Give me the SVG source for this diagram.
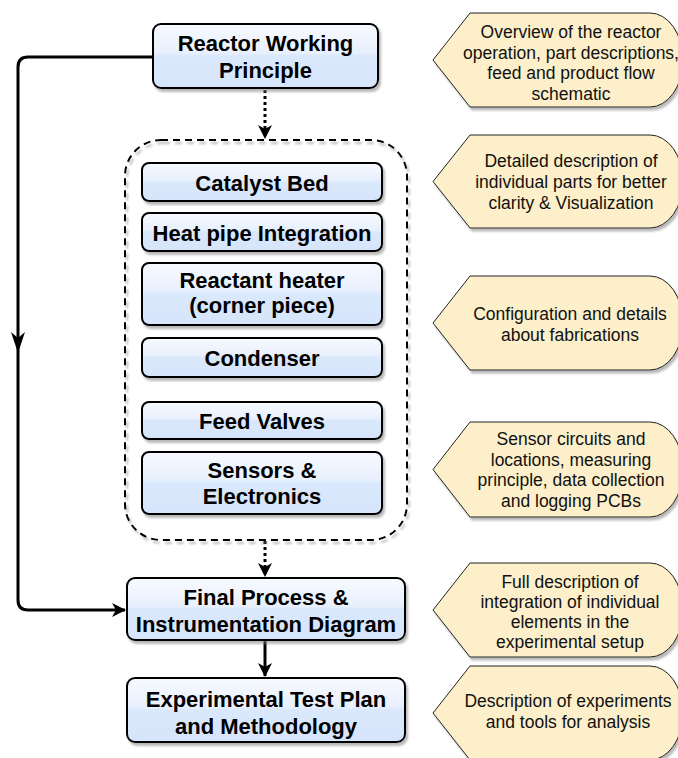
<svg xmlns="http://www.w3.org/2000/svg" width="678" height="758" viewBox="0 0 678 758">
  <style>
    .box { fill: url(#glass); stroke: #000; stroke-width: 2; filter: url(#shadow); }
    .lbl { font-family: "Liberation Sans", Arial, Helvetica, sans-serif; font-weight: bold; font-size: 22px; fill: #000; text-anchor: middle; }
    .note { fill: #fcefc9; stroke: #222; stroke-width: 1; filter: url(#shadow); }
    .ntxt { font-family: "Liberation Sans", Arial, Helvetica, sans-serif; font-size: 17.5px; fill: #111; text-anchor: middle; }
    .wire { fill: none; stroke: #000; stroke-width: 3; }
    .dotted { stroke-dasharray: 3 3; }
    .group { fill: none; stroke: #000; stroke-width: 2; stroke-dasharray: 7 5; filter: url(#shadow); }
  </style>
  <defs>
    <linearGradient id="glass" x1="0" y1="0" x2="0" y2="1">
      <stop offset="0" stop-color="#f7faff"/>
      <stop offset="0.45" stop-color="#e8f0fd"/>
      <stop offset="0.5" stop-color="#dae8fc"/>
      <stop offset="1" stop-color="#d6e5fb"/>
    </linearGradient>
    <filter id="shadow" x="-10%" y="-10%" width="125%" height="130%">
      <feDropShadow dx="2" dy="3" stdDeviation="1" flood-color="#808080" flood-opacity="0.55"/>
    </filter>
    <marker id="arrow" viewBox="0 0 14 14" refX="13" refY="7" markerWidth="14" markerHeight="14" markerUnits="userSpaceOnUse" orient="auto">
      <path d="M0,0 L14,7 L0,14 L4,7 Z" fill="#000"/>
    </marker>
  </defs>

  <!-- connectors -->
  <g id="connectors">
    <path class="wire dotted" d="M265,90 L265,138" marker-end="url(#arrow)"/>
    <path class="wire dotted" d="M265,541 L265,576" marker-end="url(#arrow)"/>
    <path class="wire" d="M265,641 L265,676" marker-end="url(#arrow)"/>
    <path class="wire" d="M153,57 L28,57 Q18,57 18,67 L18,600 Q18,610 28,610 L125,610" marker-end="url(#arrow)"/>
    <path d="M11,332 L18,353 L25,332 L18,338 Z" fill="#000"/>
  </g>

  <!-- part breakdown container -->
  <g id="parts-group">
    <rect class="group" x="125" y="140" width="282" height="400" rx="36" ry="36"/>
  </g>

  <g id="reactor-working-principle">
    <rect class="box" x="153" y="24" width="225" height="64" rx="8"/>
    <text class="lbl" x="265.5" y="51">Reactor Working</text>
    <text class="lbl" x="265.5" y="78">Principle</text>
  </g>

  <g id="catalyst-bed">
    <rect class="box" x="142" y="163" width="240" height="38" rx="7"/>
    <text class="lbl" x="262" y="191">Catalyst Bed</text>
  </g>

  <g id="heat-pipe">
    <rect class="box" x="142" y="213" width="240" height="38" rx="7"/>
    <text class="lbl" x="262" y="241">Heat pipe Integration</text>
  </g>

  <g id="reactant-heater">
    <rect class="box" x="142" y="263" width="240" height="62" rx="7"/>
    <text class="lbl" x="262" y="288">Reactant heater</text>
    <text class="lbl" x="262" y="313">(corner piece)</text>
  </g>

  <g id="condenser">
    <rect class="box" x="142" y="338" width="240" height="39" rx="7"/>
    <text class="lbl" x="262" y="366">Condenser</text>
  </g>

  <g id="feed-valves">
    <rect class="box" x="142" y="402" width="240" height="37" rx="7"/>
    <text class="lbl" x="262" y="429">Feed Valves</text>
  </g>

  <g id="sensors">
    <rect class="box" x="142" y="452" width="240" height="62" rx="7"/>
    <text class="lbl" x="262" y="478">Sensors &amp;</text>
    <text class="lbl" x="262" y="504">Electronics</text>
  </g>

  <g id="final-pid">
    <rect class="box" x="127" y="578" width="278" height="62" rx="8"/>
    <text class="lbl" x="266" y="605">Final Process &amp;</text>
    <text class="lbl" x="266" y="632">Instrumentation Diagram</text>
  </g>

  <g id="test-plan">
    <rect class="box" x="127" y="678" width="278" height="64" rx="8"/>
    <text class="lbl" x="266" y="707">Experimental Test Plan</text>
    <text class="lbl" x="266" y="734">and Methodology</text>
  </g>

  <!-- description notes -->
  <g id="note-overview">
    <path class="note" d="M433,60 L470,13 L650,13 A33,47 0 0 1 650,107 L470,107 Z"/>
    <text class="ntxt" x="571" y="38">Overview of the reactor</text>
    <text class="ntxt" x="571" y="58.5">operation, part descriptions,</text>
    <text class="ntxt" x="571" y="79">feed and product flow</text>
    <text class="ntxt" x="571" y="99.5">schematic</text>
  </g>

  <g id="note-parts">
    <path class="note" d="M433,181.5 L470,135 L650,135 A33,46.5 0 0 1 650,228 L470,228 Z"/>
    <text class="ntxt" x="571" y="167">Detailed description of</text>
    <text class="ntxt" x="571" y="188">individual parts for better</text>
    <text class="ntxt" x="571" y="209">clarity &amp; Visualization</text>
  </g>

  <g id="note-fabrication">
    <path class="note" d="M433,323 L470,276 L650,276 A33,47 0 0 1 650,370 L470,370 Z"/>
    <text class="ntxt" x="570" y="320">Configuration and details</text>
    <text class="ntxt" x="570" y="341">about fabrications</text>
  </g>

  <g id="note-sensors">
    <path class="note" d="M433,469.5 L470,422 L650,422 A33,47.5 0 0 1 650,517 L470,517 Z"/>
    <text class="ntxt" x="571" y="445">Sensor circuits and</text>
    <text class="ntxt" x="571" y="465.5">locations, measuring</text>
    <text class="ntxt" x="571" y="486">principle, data collection</text>
    <text class="ntxt" x="571" y="506.5">and logging PCBs</text>
  </g>

  <g id="note-integration">
    <path class="note" d="M433,610 L470,563 L650,563 A33,47 0 0 1 650,657 L470,657 Z"/>
    <text class="ntxt" x="570" y="588">Full description of</text>
    <text class="ntxt" x="570" y="608">integration of individual</text>
    <text class="ntxt" x="570" y="628">elements in the</text>
    <text class="ntxt" x="570" y="648">experimental setup</text>
  </g>

  <g id="note-experiments">
    <path class="note" d="M433,713 L470,666 L650,666 A33,47 0 0 1 650,760 L470,760 Z"/>
    <text class="ntxt" x="568" y="707">Description of experiments</text>
    <text class="ntxt" x="568" y="728">and tools for analysis</text>
  </g>
</svg>
